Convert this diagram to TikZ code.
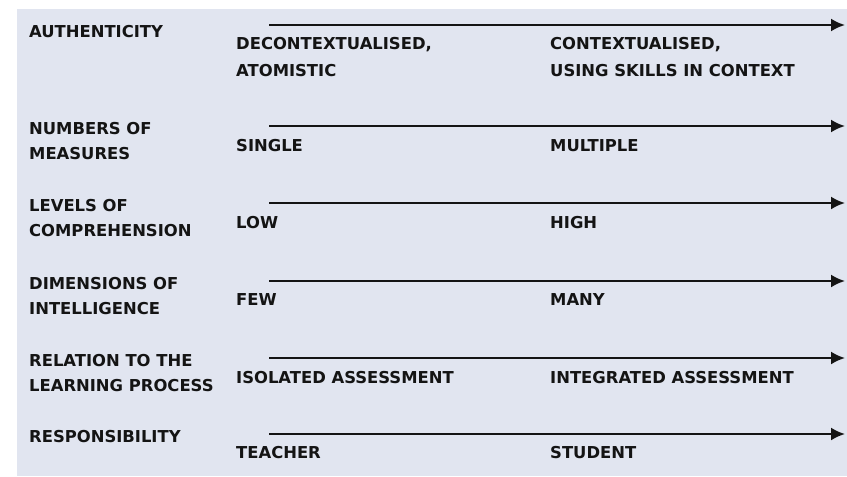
\documentclass[tikz,border=0pt]{standalone}
\usepackage{fontspec}
\setmainfont{DejaVu Sans}
\usetikzlibrary{arrows.meta}
\tikzset{>={Latex[length=14pt,width=13pt]}}
\definecolor{panel}{HTML}{E1E5F0}
\definecolor{ink}{HTML}{141414}

\begin{document}
\begin{tikzpicture}[x=1pt, y=-1pt,
    lbl/.style={anchor=north west, inner sep=0pt, align=left, text=ink,
      font=\bfseries\fontsize{16.4}{25}\selectfont},
    scalearrow/.style={->, line width=2.2pt, draw=ink}]

      \useasboundingbox (0,0) rectangle (847,477);
      \fill[panel] (17,9) rectangle (847,476); %background panel

      \node[lbl] (auth) at (29,25.1) {AUTHENTICITY};
      \node[lbl] (auth_lo) at (236,37.1) {DECONTEXTUALISED,\\[2pt]ATOMISTIC};
      \node[lbl] (auth_hi) at (550,37.1) {CONTEXTUALISED,\\[2pt]USING SKILLS IN CONTEXT};
      \coordinate (auth_s) at (269,25);
      \coordinate (auth_e) at (845,25);

      \node[lbl] (meas) at (29,122.1) {NUMBERS OF\\MEASURES};
      \node[lbl] (meas_lo) at (236,139.1) {SINGLE};
      \node[lbl] (meas_hi) at (550,139.1) {MULTIPLE};
      \coordinate (meas_s) at (269,126);
      \coordinate (meas_e) at (845,126);

      \node[lbl] (comp) at (29,199.1) {LEVELS OF\\COMPREHENSION};
      \node[lbl] (comp_lo) at (236,216.1) {LOW};
      \node[lbl] (comp_hi) at (550,216.1) {HIGH};
      \coordinate (comp_s) at (269,203);
      \coordinate (comp_e) at (845,203);

      \node[lbl] (intl) at (29,277.1) {DIMENSIONS OF\\INTELLIGENCE};
      \node[lbl] (intl_lo) at (236,293.1) {FEW};
      \node[lbl] (intl_hi) at (550,293.1) {MANY};
      \coordinate (intl_s) at (269,281);
      \coordinate (intl_e) at (845,281);

      \node[lbl] (proc) at (29,354.1) {RELATION TO THE\\LEARNING PROCESS};
      \node[lbl] (proc_lo) at (236,371.1) {ISOLATED ASSESSMENT};
      \node[lbl] (proc_hi) at (550,371.1) {INTEGRATED ASSESSMENT};
      \coordinate (proc_s) at (269,358);
      \coordinate (proc_e) at (845,358);

      \node[lbl] (resp) at (29,430.1) {RESPONSIBILITY};
      \node[lbl] (resp_lo) at (236,446.1) {TEACHER};
      \node[lbl] (resp_hi) at (550,446.1) {STUDENT};
      \coordinate (resp_s) at (269,434);
      \coordinate (resp_e) at (845,434);

      \path (auth_s) edge[scalearrow] (auth_e)
            (meas_s) edge[scalearrow] (meas_e)
            (comp_s) edge[scalearrow] (comp_e)
            (intl_s) edge[scalearrow] (intl_e)
            (proc_s) edge[scalearrow] (proc_e)
            (resp_s) edge[scalearrow] (resp_e);

\end{tikzpicture}
\end{document}
